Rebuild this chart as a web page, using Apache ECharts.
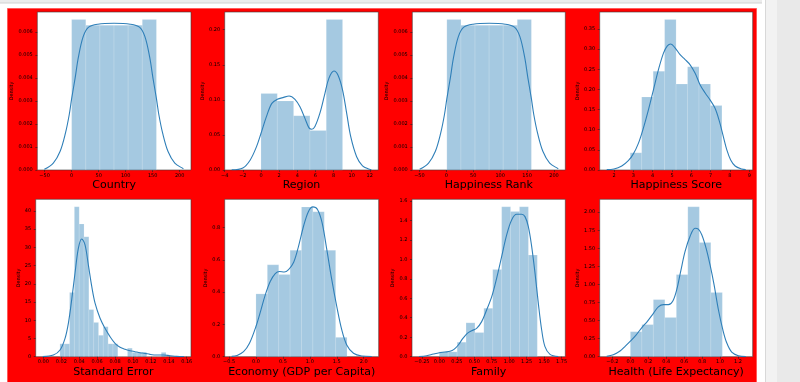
<!DOCTYPE html>
<html><head><meta charset="utf-8">
<script src="https://cdn.jsdelivr.net/npm/echarts@6/dist/echarts.min.js"></script>
<style>html,body{margin:0;padding:0;background:#fff;}#c{width:800px;height:382px;}</style>
</head><body><div id="c"></div>
<script>
// ---------- DATA ----------
const titles = ["Country", "Region", "Happiness Rank", "Happiness Score",
                "Standard Error", "Economy (GDP per Capita)", "Family", "Health (Life Expectancy)"];

// Country
const countryEdges = [0, 26.17, 52.33, 78.5, 104.67, 130.83, 157];
const countryDens  = [0.00653, 0.00629, 0.00629, 0.00629, 0.00629, 0.00653];
const countryKdeX  = [-50.5, -50, -34, -21.5, -11.5, -4.5, 0, 6.5, 12.5, 21.5, 31.5, 48.5, 78.5, 108.5, 125.5, 135.5, 144.5, 150.5, 157, 161.5, 168.5, 178.5, 191, 207, 207.5];
const countryKdeY  = [0.00003, 0.00005, 0.0003, 0.0008, 0.0016, 0.0024, 0.0031, 0.0040, 0.0049, 0.0058, 0.0062, 0.00633, 0.00637, 0.00633, 0.0062, 0.0058, 0.0049, 0.0040, 0.0031, 0.0024, 0.0016, 0.0008, 0.0003, 0.00005, 0.00003];
const countryXTicks = [-50, 0, 50, 100, 150, 200];
const countryYTicks = [0, 0.001, 0.002, 0.003, 0.004, 0.005, 0.006];

// Region
const regionEdges = [0, 1.8, 3.6, 5.4, 7.2, 9];
const regionDens  = [0.109, 0.0985, 0.0774, 0.0563, 0.2145];
const regionKdeX  = [-3.23, -2, -1.2, -0.5, 0, 0.6, 1.2, 1.8, 2.5, 3.1, 3.75, 4.3, 4.85, 5.3, 5.6, 5.95, 6.5, 7.05, 7.5, 8.05, 8.5, 9, 9.45, 9.9, 10.55, 11.2, 11.95, 12.17];
const regionKdeY  = [0.0003, 0.003, 0.014, 0.033, 0.052, 0.076, 0.095, 0.1007, 0.1035, 0.1054, 0.1007, 0.090, 0.0736, 0.060, 0.058, 0.062, 0.081, 0.109, 0.131, 0.141, 0.135, 0.114, 0.081, 0.0475, 0.019, 0.006, 0.001, 0.0005];
const regionXTicks = [-4, -2, 0, 2, 4, 6, 8, 10, 12];
const regionYTicks = [0, 0.05, 0.10, 0.15, 0.20];

// Happiness Rank
const rankEdges = [1, 27.17, 53.33, 79.5, 105.67, 131.83, 158];
const rankDens  = [0.00653, 0.00629, 0.00629, 0.00629, 0.00629, 0.00653];
const rankKdeX  = [-49.5, -49, -33, -20.5, -10.5, -3.5, 1, 7.5, 13.5, 22.5, 32.5, 49.5, 79.5, 109.5, 126.5, 136.5, 145.5, 151.5, 158, 162.5, 169.5, 179.5, 192, 208, 208.5];
const rankKdeY  = [0.00003, 0.00005, 0.0003, 0.0008, 0.0016, 0.0024, 0.0031, 0.0040, 0.0049, 0.0058, 0.0062, 0.00633, 0.00637, 0.00633, 0.0062, 0.0058, 0.0049, 0.0040, 0.0031, 0.0024, 0.0016, 0.0008, 0.0003, 0.00005, 0.00003];
const rankXTicks = [-50, 0, 50, 100, 150, 200];
const rankYTicks = [0, 0.001, 0.002, 0.003, 0.004, 0.005, 0.006];

// Happiness Score
const scoreEdges = [2.839, 3.4325, 4.026, 4.6195, 5.213, 5.8065, 6.4, 6.9935, 7.587];
const scoreDens  = [0.0427, 0.1813, 0.2453, 0.3733, 0.2133, 0.256, 0.2133, 0.160];
const scoreKdeX  = [1.62, 2.0, 2.4, 2.74, 3.0, 3.26, 3.52, 3.78, 4.04, 4.3, 4.56, 4.76, 4.94, 5.16, 5.42, 5.68, 5.94, 6.2, 6.46, 6.72, 6.97, 7.23, 7.46, 7.66, 7.84, 8.04, 8.27, 8.61, 8.82];
const scoreKdeY  = [0.001, 0.0025, 0.010, 0.023, 0.040, 0.066, 0.104, 0.149, 0.199, 0.249, 0.290, 0.308, 0.3126, 0.303, 0.286, 0.274, 0.261, 0.240, 0.211, 0.191, 0.174, 0.153, 0.120, 0.083, 0.050, 0.025, 0.010, 0.0025, 0.001];
const scoreXTicks = [2, 3, 4, 5, 6, 7, 8, 9];
const scoreYTicks = [0, 0.05, 0.10, 0.15, 0.20, 0.25, 0.30, 0.35];

// Standard Error
const seEdges = [0.0185, 0.0239, 0.0293, 0.0346, 0.0400, 0.0454, 0.0508, 0.0562, 0.0616, 0.0669, 0.0723, 0.0777, 0.0831, 0.0885, 0.0939, 0.0992, 0.1046, 0.1100, 0.1154, 0.1208, 0.1262, 0.1316, 0.1369];
const seDens  = [3.53, 3.53, 17.63, 41.14, 36.44, 32.91, 12.93, 9.40, 5.88, 8.23, 3.53, 3.53, 0, 0, 2.35, 1.18, 1.18, 1.18, 0, 0, 0, 1.18];
const seKdeX  = [-0.0007, 0.0112, 0.0186, 0.0242, 0.0279, 0.0316, 0.0353, 0.0391, 0.0428, 0.0465, 0.0502, 0.054, 0.0577, 0.0633, 0.0688, 0.0744, 0.08, 0.0856, 0.0912, 0.0967, 0.1023, 0.1079, 0.1135, 0.119, 0.1265, 0.134, 0.1414, 0.1488, 0.157];
const seKdeY  = [0.02, 0.46, 1.83, 5.05, 9.17, 15.6, 22.9, 29.8, 32.3, 30.7, 25.2, 19.3, 14.7, 10.55, 7.8, 5.5, 3.67, 2.57, 2.02, 1.65, 1.38, 1.1, 0.92, 0.64, 0.46, 0.46, 0.28, 0.09, 0.02];
const seXTicks = [0, 0.02, 0.04, 0.06, 0.08, 0.10, 0.12, 0.14, 0.16];
const seYTicks = [0, 5, 10, 15, 20, 25, 30, 35, 40];

// Economy (GDP per Capita)
const econEdges = [0, 0.2113, 0.4226, 0.6339, 0.8452, 1.0565, 1.2678, 1.4791, 1.6904];
const econDens  = [0.389, 0.569, 0.509, 0.659, 0.928, 0.898, 0.659, 0.120];
const econKdeX  = [-0.45, -0.35, -0.23, -0.12, 0, 0.093, 0.173, 0.265, 0.358, 0.438, 0.525, 0.605, 0.70, 0.79, 0.883, 0.975, 1.056, 1.142, 1.228, 1.315, 1.407, 1.5, 1.593, 1.685, 1.81, 1.963, 2.148];
const econKdeY  = [0.002, 0.008, 0.031, 0.083, 0.187, 0.290, 0.383, 0.466, 0.515, 0.528, 0.525, 0.540, 0.585, 0.684, 0.808, 0.90, 0.928, 0.912, 0.829, 0.663, 0.477, 0.311, 0.166, 0.073, 0.021, 0.004, 0.001];
const econXTicks = [-0.5, 0.0, 0.5, 1.0, 1.5, 2.0];
const econYTicks = [0, 0.2, 0.4, 0.6, 0.8];

// Family
const famEdges = [0, 0.1275, 0.2550, 0.3824, 0.5099, 0.6374, 0.7649, 0.8923, 1.0198, 1.1473, 1.2748, 1.4022];
const famDens  = [0.0497, 0.0497, 0.149, 0.348, 0.248, 0.497, 0.894, 1.539, 1.490, 1.539, 1.043];
const famKdeX  = [-0.291, -0.18, -0.086, 0, 0.081, 0.153, 0.21, 0.272, 0.334, 0.40, 0.463, 0.534, 0.606, 0.677, 0.75, 0.82, 0.892, 0.964, 1.035, 1.107, 1.178, 1.226, 1.274, 1.322, 1.37, 1.417, 1.465, 1.512, 1.584, 1.703];
const famKdeY  = [0.002, 0.010, 0.027, 0.041, 0.048, 0.055, 0.075, 0.12, 0.185, 0.240, 0.267, 0.291, 0.36, 0.479, 0.616, 0.805, 1.027, 1.25, 1.404, 1.462, 1.462, 1.438, 1.336, 1.13, 0.856, 0.548, 0.274, 0.103, 0.024, 0.001];
const famXTicks = [-0.25, 0.00, 0.25, 0.50, 0.75, 1.00, 1.25, 1.50, 1.75];
const famYTicks = [0, 0.2, 0.4, 0.6, 0.8, 1.0, 1.2, 1.4, 1.6];

// Health (Life Expectancy)
const healthEdges = [0, 0.1282, 0.2563, 0.3845, 0.5126, 0.6408, 0.7689, 0.8971, 1.0253];
const healthDens  = [0.346, 0.444, 0.790, 0.543, 1.136, 2.074, 1.580, 0.889];
const healthKdeX  = [-0.264, -0.19, -0.115, -0.056, 0, 0.063, 0.126, 0.19, 0.257, 0.312, 0.368, 0.424, 0.472, 0.517, 0.561, 0.61, 0.665, 0.721, 0.758, 0.796, 0.844, 0.888, 0.933, 0.981, 1.03, 1.074, 1.13, 1.204, 1.287];
const healthKdeY  = [0.005, 0.028, 0.078, 0.147, 0.216, 0.30, 0.40, 0.49, 0.60, 0.69, 0.721, 0.721, 0.767, 0.928, 1.181, 1.457, 1.664, 1.778, 1.765, 1.687, 1.503, 1.273, 0.997, 0.653, 0.377, 0.193, 0.064, 0.014, 0.001];
const healthXTicks = [-0.2, 0.0, 0.2, 0.4, 0.6, 0.8, 1.0, 1.2];
const healthYTicks = [0, 0.25, 0.5, 0.75, 1.0, 1.25, 1.5, 1.75, 2.0];

// ---------- LAYOUT (positions / styles only) ----------
const panels = [
  {edges: countryEdges, dens: countryDens, kx: countryKdeX, ky: countryKdeY, xt: countryXTicks, yt: countryYTicks, xd: 0, yd: 3, xmin: -63.6, xmax: 221, ymax: 0.00686, L: 37.3, R: 191, T: 12, B: 170, ng: 21.5},
  {edges: regionEdges, dens: regionDens, kx: regionKdeX, ky: regionKdeY, xt: regionXTicks, yt: regionYTicks, xd: 0, yd: 2, xmin: -4.0, xmax: 12.94, ymax: 0.2252, L: 224.7, R: 378.3, T: 12, B: 170, ng: 18.2},
  {edges: rankEdges, dens: rankDens, kx: rankKdeX, ky: rankKdeY, xt: rankXTicks, yt: rankYTicks, xd: 0, yd: 3, xmin: -63.2, xmax: 221, ymax: 0.00686, L: 412.3, R: 565.3, T: 12, B: 170, ng: 22.5},
  {edges: scoreEdges, dens: scoreDens, kx: scoreKdeX, ky: scoreKdeY, xt: scoreXTicks, yt: scoreYTicks, xd: 0, yd: 2, xmin: 1.257, xmax: 9.18, ymax: 0.392, L: 599.7, R: 752.7, T: 12, B: 170, ng: 18.2},
  {edges: seEdges, dens: seDens, kx: seKdeX, ky: seKdeY, xt: seXTicks, yt: seYTicks, xd: 2, yd: 0, xmin: -0.00856, xmax: 0.1648, ymax: 43.2, L: 35.7, R: 191, T: 199.3, B: 356.7, ng: 11.2},
  {edges: econEdges, dens: econDens, kx: econKdeX, ky: econKdeY, xt: econXTicks, yt: econYTicks, xd: 1, yd: 1, xmin: -0.58, xmax: 2.278, ymax: 0.975, L: 224.7, R: 378.7, T: 199.3, B: 356.7, ng: 14},
  {edges: famEdges, dens: famDens, kx: famKdeX, ky: famKdeY, xt: famXTicks, yt: famYTicks, xd: 2, yd: 1, xmin: -0.391, xmax: 1.803, ymax: 1.616, L: 412, R: 565.3, T: 199.3, B: 356.7, ng: 14.5},
  {edges: healthEdges, dens: healthDens, kx: healthKdeX, ky: healthKdeY, xt: healthXTicks, yt: healthYTicks, xd: 1, yd: 2, xmin: -0.342, xmax: 1.364, ymax: 2.178, L: 599.7, R: 752.7, T: 199.3, B: 356.7, ng: 18.2}
];

function fmt(d) {
  return function (v) {
    let s = Number(v).toFixed(d);
    if (s.charAt(0) === '-') s = '\u2212' + s.slice(1);
    return s;
  };
}

const grid = [], xAxis = [], yAxis = [], series = [];
const axisCol = '#222';
panels.forEach((p, i) => {
  grid.push({left: p.L, top: p.T, width: p.R - p.L, height: p.B - p.T, show: true,
    backgroundColor: '#ffffff', borderColor: '#3a3a3a', borderWidth: 0.6});
  xAxis.push({type: 'value', gridIndex: i, min: p.xmin, max: p.xmax, position: 'bottom',
    name: titles[i], nameLocation: 'middle', nameGap: 9.5,
    nameTextStyle: {fontFamily: 'DejaVu Sans', fontSize: 11, color: '#000'},
    axisLine: {show: false, onZero: false}, splitLine: {show: false},
    axisTick: {show: true, length: 2, customValues: p.xt, lineStyle: {color: axisCol, width: 0.6}},
    axisLabel: {customValues: p.xt, formatter: fmt(p.xd), fontFamily: 'DejaVu Sans', fontSize: 5, color: '#000', margin: 3}
  });
  yAxis.push({type: 'value', gridIndex: i, min: 0, max: p.ymax, position: 'left',
    name: 'Density', nameLocation: 'middle', nameRotate: 90, nameGap: p.ng,
    nameTextStyle: {fontFamily: 'DejaVu Sans', fontSize: 4.9, color: '#000'},
    axisLine: {show: false, onZero: false}, splitLine: {show: false},
    axisTick: {show: true, length: 2, customValues: p.yt, lineStyle: {color: axisCol, width: 0.6}},
    axisLabel: {customValues: p.yt, formatter: fmt(p.yd), fontFamily: 'DejaVu Sans', fontSize: 5, color: '#000', margin: 4.5}
  });
  const bars = p.dens.map((d, k) => [p.edges[k], p.edges[k + 1], d]);
  series.push({type: 'custom', xAxisIndex: i, yAxisIndex: i, data: bars, encode: {x: [0, 1], y: 2},
    renderItem: function (params, api) {
      const a = api.coord([api.value(0), 0]);
      const b = api.coord([api.value(1), api.value(2)]);
      return {type: 'rect', shape: {x: a[0], y: b[1], width: b[0] - a[0], height: a[1] - b[1]},
        style: {fill: 'rgba(31,119,180,0.4)', stroke: 'rgba(255,255,255,0.25)', lineWidth: 0.6}};
    }, z: 2, silent: true});
  series.push({type: 'line', xAxisIndex: i, yAxisIndex: i, data: p.kx.map((x, k) => [x, p.ky[k]]),
    showSymbol: false, symbol: 'none', smooth: 0.35, silent: true, z: 3,
    lineStyle: {color: '#2f7fb8', width: 1.1}});
});

const chart = echarts.init(document.getElementById('c'), null, {renderer: 'canvas'});
chart.setOption({
  animation: false,
  backgroundColor: '#ffffff',
  graphic: {elements: [
    {type: 'rect', z: -20, shape: {x: 0, y: 0, width: 762, height: 3}, style: {fill: '#ececec'}},
    {type: 'line', z: -20, shape: {x1: 0, y1: 3, x2: 762, y2: 3}, style: {stroke: '#d2d2d2', lineWidth: 1}},
    {type: 'rect', z: -20, shape: {x: 765, y: 0, width: 12, height: 382}, style: {fill: '#f2f2f2'}},
    {type: 'line', z: -20, shape: {x1: 765.5, y1: 0, x2: 765.5, y2: 382}, style: {stroke: '#d8d8d8', lineWidth: 1}},
    {type: 'rect', z: -20, shape: {x: 777, y: 0, width: 23, height: 382}, style: {fill: '#e9e9e9'}},
    {type: 'rect', z: -10, shape: {x: 7.5, y: 8.5, width: 749, height: 380}, style: {fill: '#ff0000', stroke: '#ff5a5a', lineWidth: 1}}
  ]},
  grid, xAxis, yAxis, series
});
</script></body></html>
